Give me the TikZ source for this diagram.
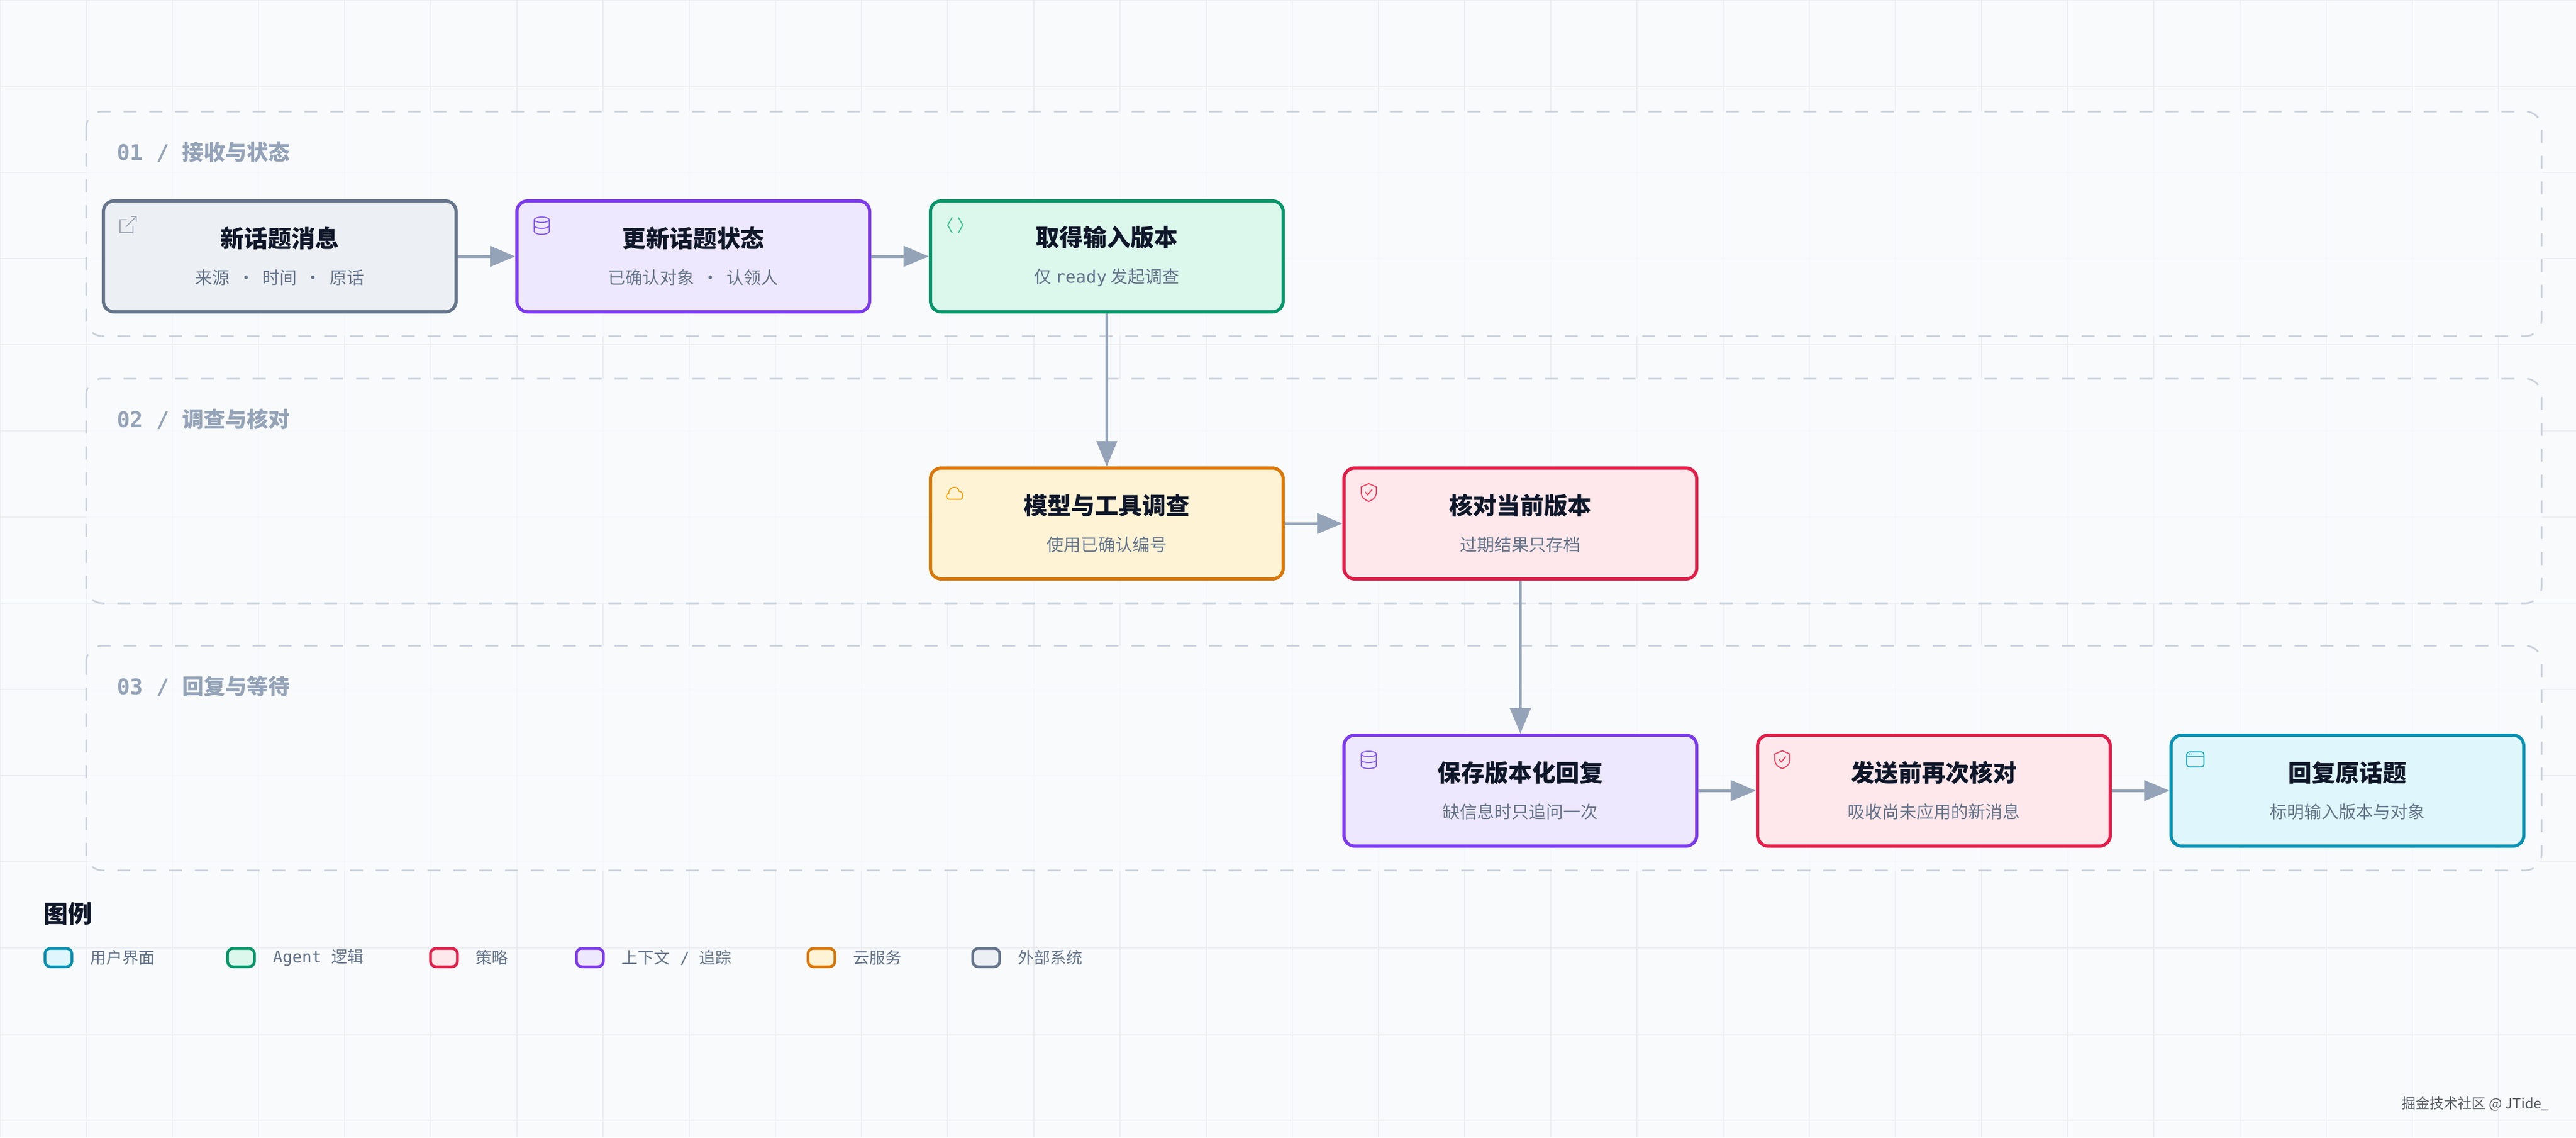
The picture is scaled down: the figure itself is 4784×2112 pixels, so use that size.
\documentclass[tikz,border=0pt]{standalone}
\usepackage{fontspec}
\setmainfont{Noto Sans CJK SC}
\newfontfamily\monofont{DejaVu Sans Mono}
\usetikzlibrary{positioning, arrows.meta}

\definecolor{bgFill}{HTML}{F8FAFC}
\definecolor{gridInk}{HTML}{EAEEF3}
\definecolor{laneInk}{HTML}{C8D0DC}
\definecolor{laneFill}{HTML}{F9FBFD}
\definecolor{laneText}{HTML}{94A3B8}
\definecolor{arrowInk}{HTML}{94A3B8}
\definecolor{titleInk}{HTML}{0F172A}
\definecolor{subInk}{HTML}{64748B}
\definecolor{markInk}{HTML}{555B63}
\definecolor{grayLine}{HTML}{64748B}   \definecolor{grayFill}{HTML}{ECEFF3}   \definecolor{grayIcon}{HTML}{9AA4B2}
\definecolor{purpleLine}{HTML}{7C3AED} \definecolor{purpleFill}{HTML}{EEE8FE} \definecolor{purpleIcon}{HTML}{8B5CF6}
\definecolor{greenLine}{HTML}{059669}  \definecolor{greenFill}{HTML}{DCF7EC}  \definecolor{greenIcon}{HTML}{3CBF94}
\definecolor{orangeLine}{HTML}{D97706} \definecolor{orangeFill}{HTML}{FFF3D6} \definecolor{orangeIcon}{HTML}{F59E0B}
\definecolor{redLine}{HTML}{E11D48}    \definecolor{redFill}{HTML}{FFE8EB}    \definecolor{redIcon}{HTML}{F43F5E}
\definecolor{cyanLine}{HTML}{0891B2}   \definecolor{cyanFill}{HTML}{DFF7FC}   \definecolor{cyanIcon}{HTML}{22A3BD}

\newcommand\subline[1]{{\fontsize{8}{10}\selectfont\mdseries\color{subInk}#1}}
\newcommand\sep{\hspace{0.45em}·\hspace{0.45em}}

\tikzset{
  stage/.style={rounded corners=5pt, line width=1.5pt, draw=#1Line, fill=#1Fill,
                minimum width=163.75pt, minimum height=51.5pt, inner sep=0pt,
                align=center, text=titleInk, font=\fontsize{11}{14}\selectfont\bfseries},
  swatch/.style={rounded corners=2.5pt, line width=1.25pt, draw=#1Line, fill=#1Fill,
                 minimum width=12.5pt, minimum height=8.5pt, inner sep=0pt},
  lane/.style={draw=laneInk, fill=laneFill, fill opacity=0.75, line width=0.75pt,
               dash pattern=on 6pt off 6pt, rounded corners=7.5pt},
  lanelabel/.style={anchor=base west, inner sep=0pt, text=laneText,
                    font=\fontsize{10}{12}\selectfont\bfseries},
  keytext/.style={anchor=west, inner sep=0pt, text=subInk, font=\fontsize{7.5}{9}\selectfont},
  flow/.style={draw=arrowInk, line width=1.25pt, -{Triangle[length=11.75pt,width=9.5pt]}},
  icon/.style={line width=0.5pt, line cap=round, line join=round},
  pics/extlink/.style={code={
    \draw[icon] (46,38) -- (34,38) -- (34,62) -- (58,62) -- (58,50);
    \draw[icon] (45,51) -- (64,32);
    \draw[icon] (55,32) -- (64,32) -- (64,41);}},
  pics/database/.style={code={
    \draw[icon] (49,38) ellipse [x radius=14, y radius=5];
    \draw[icon] (35,38) -- (35,60) arc[start angle=180, end angle=0, x radius=14, y radius=5] -- (63,38);
    \draw[icon] (35,49) arc[start angle=180, end angle=0, x radius=14, y radius=5];}},
  pics/codemark/.style={code={
    \draw[icon] (43,34) -- (35,48) -- (43,62);
    \draw[icon] (55,34) -- (63,48) -- (55,62);}},
  pics/cloud/.style={code={
    \draw[icon] (38,61) .. controls (31,61) and (31,51) .. (37,50)
      .. controls (36,38) and (54,34) .. (56,46)
      .. controls (63,46) and (66,56) .. (60,61) -- cycle;}},
  pics/shield/.style={code={
    \draw[icon] (49,32) -- (63,38) -- (63,48) .. controls (63,57) and (57,62) .. (49,65)
      .. controls (41,62) and (35,57) .. (35,48) -- (35,38) -- cycle;
    \draw[icon] (43,48) -- (47,53) -- (55,43);}},
  pics/window/.style={code={
    \draw[icon, rounded corners=1.2pt] (32,34) rectangle (64,62);
    \draw[icon] (32,42) -- (64,42);
    \fill (37,38) circle [radius=1.4];
    \fill (41.5,38) circle [radius=1.4];}}
}

\begin{document}
\begin{tikzpicture}[x=0.25pt, y=-0.25pt, node distance={71pt and 26.75pt}]
\useasboundingbox (0,0) rectangle (4784,2112);
\fill[bgFill] (0,0) rectangle (4784,2112);
\foreach \gx in {0,160,...,4784} \draw[gridInk, line width=0.4pt] (\gx,0) -- (\gx,2112);
\foreach \gy in {0,160,...,2112} \draw[gridInk, line width=0.4pt] (0,\gy) -- (4784,\gy);

% lanes
\foreach \i/\idx/\ttl in {0/01/接收与状态, 1/02/调查与核对, 2/03/回复与等待} {
  \draw[lane] (160,{207+496*\i}) rectangle (4720,{624+496*\i});
  \node[lanelabel] (lane\idx) at (217,{297+496*\i}) {{\monofont\idx\ / }\ttl};
}

% stages
\node[stage=gray] (msg) at (519.5,476) {新话题消息\\[3pt]\subline{来源\sep 时间\sep 原话}};
\node[stage=purple, right=of msg] (state) {更新话题状态\\[3pt]\subline{已确认对象\sep 认领人}};
\node[stage=green, right=of state] (ver) {取得输入版本\\[3pt]\subline{仅 {\monofont ready} 发起调查}};
\node[stage=orange, below=of ver] (probe) {模型与工具调查\\[3pt]\subline{使用已确认编号}};
\node[stage=red, right=of probe] (check) {核对当前版本\\[3pt]\subline{过期结果只存档}};
\node[stage=purple, below=of check] (save) {保存版本化回复\\[3pt]\subline{缺信息时只追问一次}};
\node[stage=red, right=of save] (recheck) {发送前再次核对\\[3pt]\subline{吸收尚未应用的新消息}};
\node[stage=cyan, right=of recheck] (reply) {回复原话题\\[3pt]\subline{标明输入版本与对象}};

% icons
\pic[draw=grayIcon] at (msg.north west) {extlink};
\pic[draw=purpleIcon] at (state.north west) {database};
\pic[draw=greenIcon] at (ver.north west) {codemark};
\pic[draw=orangeIcon] at (probe.north west) {cloud};
\pic[draw=redIcon] at (check.north west) {shield};
\pic[draw=purpleIcon] at (save.north west) {database};
\pic[draw=redIcon] at (recheck.north west) {shield};
\pic[draw=cyanIcon, fill=cyanIcon] at (reply.north west) {window};

\draw[flow] (msg) -- (state);
\draw[flow] (state) -- (ver);
\draw[flow] (ver) -- (probe);
\draw[flow] (probe) -- (check);
\draw[flow] (check) -- (save);
\draw[flow] (save) -- (recheck);
\draw[flow] (recheck) -- (reply);

% legend
\node[anchor=west, inner sep=0pt, text=titleInk, font=\fontsize{11.25}{13}\selectfont\bfseries]
  (keyhead) at (81,1696) {图例};
\foreach \x/\tone/\txt in {81/cyan/用户界面, 420/green/{{\monofont Agent }逻辑}, 797/red/策略,
                           1068/purple/{上下文{\monofont\ /\ }追踪}, 1498/orange/云服务, 1804/gray/外部系统} {
  \node[swatch=\tone] (key\tone) at ({\x+27.5},1778) {};
  \node[keytext] (keytext\tone) at ({\x+86},1778) {\txt};
}

\node[anchor=east, inner sep=0pt, text=markInk, font=\fontsize{6.5}{8}\selectfont]
  (credit) at (4735,2050) {掘金技术社区 @ JTide\_};
\end{tikzpicture}
\end{document}
